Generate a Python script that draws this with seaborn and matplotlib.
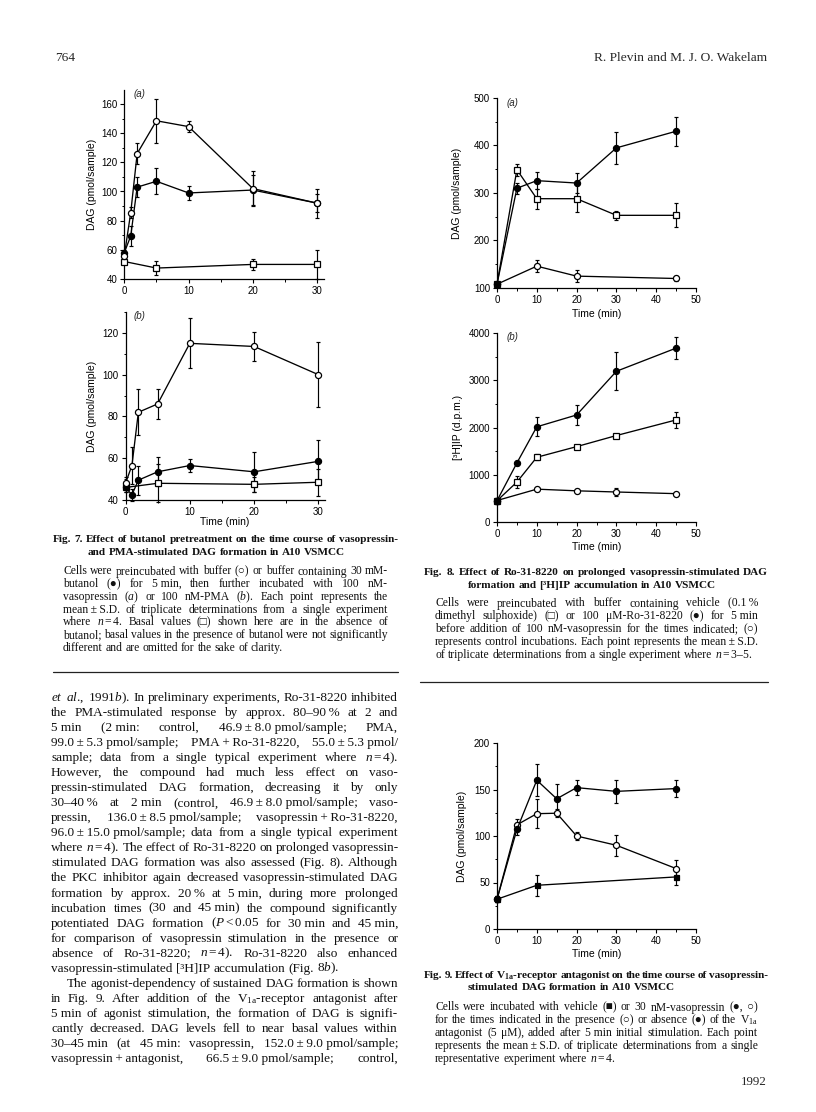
import matplotlib
matplotlib.use("Agg")
import numpy as np
import pandas as pd
import matplotlib.pyplot as plt
from matplotlib.ticker import MultipleLocator
from matplotlib.lines import Line2D
import seaborn as sns

# ---------------- data ----------------
fig7a_time = [0, 1, 2, 5, 10, 20, 30]
fig7a_vaso_buffer = [56, 85.5, 126, 148.5, 144.5, 102, 92]
fig7a_vaso_buffer_sd = [2, 4, 7, 15, 3.5, 12, 10]
fig7a_vaso_butanol = [58, 69.5, 103, 107, 99, 101, 92]
fig7a_vaso_butanol_sd = [2, 7, 7, 9, 4.5, 10, 6]
fig7a_basal_time = [0, 5, 20, 30]
fig7a_basal = [52, 47.5, 50, 50]
fig7a_basal_sd = [2, 5, 4, 10]

fig7b_time = [0, 1, 2, 5, 10, 20, 30]
fig7b_pma_buffer = [48, 56.5, 82, 86, 115, 113.5, 100]
fig7b_pma_buffer_sd = [3, 9, 11, 7, 12, 7, 15.5]
fig7b_pma_butanol = [46, 42.5, 49.5, 53.5, 56.5, 53.5, 58.5]
fig7b_pma_butanol_sd = [2, 3, 7, 7, 3, 9.5, 10]
fig7b_basal_time = [0, 5, 20, 30]
fig7b_basal = [46, 48, 47.5, 48.5]
fig7b_basal_sd = [2, 9, 3.5, 6.5]

fig8_time = [0, 5, 10, 20, 30, 45]
fig8a_ro = [108, 310, 326, 321, 395, 430]
fig8a_ro_sd = [4, 12, 18, 21, 33, 31]
fig8a_vehicle = [108, 349, 288, 288, 253, 253]
fig8a_vehicle_sd = [4, 13, 21, 29, 10, 25]
fig8a_control_time = [0, 10, 20, 45]
fig8a_control = [108, 146, 125, 120]
fig8a_control_sd = [3, 12, 13, 6]

fig8b_ro = [450, 1250, 2015, 2265, 3190, 3680]
fig8b_ro_sd = [60, 50, 200, 215, 400, 240]
fig8b_vehicle = [450, 845, 1370, 1595, 1830, 2160]
fig8b_vehicle_sd = [60, 120, 60, 40, 40, 160]
fig8b_control_time = [0, 10, 20, 30, 45]
fig8b_control = [455, 695, 660, 635, 600]
fig8b_control_sd = [60, 30, 30, 85, 20]

fig9_time = [0, 5, 10, 15, 20, 30, 45]
fig9_vaso = [32, 107, 160, 140, 152, 148, 151]
fig9_vaso_sd = [3, 6, 17, 16, 8, 12.5, 9]
fig9_antag = [32, 112, 124, 124.5, 100, 90, 65]
fig9_antag_sd = [3, 6.5, 15.5, 4.5, 4, 11.5, 9.5]
fig9_vehicle_time = [0, 10, 45]
fig9_vehicle = [32, 47, 56]
fig9_vehicle_sd = [3, 11, 9]

# ---------------- page text ----------------
PM = "\u2009±\u2009"
NB = "\u00a0"
body_lines = [
    r"$\mathit{et}$ $\mathit{al}$., 1991$\mathit{b}$). In preliminary experiments, Ro-31-8220 inhibited",
    "the PMA-stimulated response by approx. 80–90\u2009% at 2 and",
    f"5{NB}min (2{NB}min: control, 46.9{PM}8.0{NB}pmol/sample; PMA,",
    f"99.0{PM}5.3{NB}pmol/sample; PMA\u2009+\u2009Ro-31-8220, 55.0{PM}5.3{NB}pmol/",
    r"sample; data from a single typical experiment where $\mathit{n}=\mathrm{4}$).",
    "However, the compound had much less effect on vaso-",
    "pressin-stimulated DAG formation, decreasing it by only",
    f"30–40\u2009% at 2{NB}min (control, 46.9{PM}8.0{NB}pmol/sample; vaso-",
    f"pressin, 136.0{PM}8.5{NB}pmol/sample; vasopressin\u2009+\u2009Ro-31-8220,",
    f"96.0{PM}15.0{NB}pmol/sample; data from a single typical experiment",
    r"where $\mathit{n}=\mathrm{4}$). The effect of Ro-31-8220 on prolonged vasopressin-",
    "stimulated DAG formation was also assessed (Fig. 8). Although",
    "the PKC inhibitor again decreased vasopressin-stimulated DAG",
    f"formation by approx. 20\u2009% at 5{NB}min, during more prolonged",
    f"incubation times (30 and 45{NB}min) the compound significantly",
    r"potentiated DAG formation ($\mathit{P}<\mathrm{0.05}$ for 30" + NB + "min and 45" + NB + "min,",
    "for comparison of vasopressin stimulation in the presence or",
    r"absence of Ro-31-8220; $\mathit{n}=\mathrm{4}$). Ro-31-8220 also enhanced",
    r"vasopressin-stimulated [³H]IP accumulation (Fig. 8$\mathit{b}$).",
    "The agonist-dependency of sustained DAG formation is shown",
    r"in Fig. 9. After addition of the V$_{\mathrm{1a}}$-receptor antagonist after",
    f"5{NB}min of agonist stimulation, the formation of DAG is signifi-",
    "cantly decreased. DAG levels fell to near basal values within",
    f"30–45{NB}min (at 45{NB}min: vasopressin, 152.0{PM}9.0{NB}pmol/sample;",
    f"vasopressin\u2009+\u2009antagonist, 66.5{PM}9.0{NB}pmol/sample; control,",
]
title7 = ["Fig. 7. Effect of butanol pretreatment on the time course of vasopressin-",
          "and PMA-stimulated DAG formation in A10 VSMCC"]
cap7 = ["Cells were preincubated with buffer (○) or buffer containing 30 mM-",
        f"butanol (●) for 5{NB}min, then further incubated with 100 nM-",
        r"vasopressin ($\mathit{a}$) or 100 nM-PMA ($\mathit{b}$). Each point represents the",
        f"mean{PM}S.D. of triplicate determinations from a single experiment",
        r"where $\mathit{n}=\mathrm{4}$. Basal values (□) shown here are in the absence of",
        "butanol; basal values in the presence of butanol were not significantly",
        "different and are omitted for the sake of clarity."]
title8 = ["Fig. 8. Effect of Ro-31-8220 on prolonged vasopressin-stimulated DAG",
          "formation and [³H]IP accumulation in A10 VSMCC"]
cap8 = ["Cells were preincubated with buffer containing vehicle (0.1\u2009%",
        f"dimethyl sulphoxide) (□) or 100 μM-Ro-31-8220 (●) for 5{NB}min",
        "before addition of 100 nM-vasopressin for the times indicated; (○)",
        f"represents control incubations. Each point represents the mean{PM}S.D.",
        r"of triplicate determinations from a single experiment where $\mathit{n}=\mathrm{3}$–5."]
title9 = [r"Fig. 9. Effect of V$_{\mathbf{1a}}$-receptor antagonist on the time course of vasopressin-",
          "stimulated DAG formation in A10 VSMCC"]
cap9 = ["Cells were incubated with vehicle (■) or 30 nM-vasopressin (●, ○)",
        r"for the times indicated in the presence (○) or absence (●) of the V$_{\mathrm{1a}}$",
        f"antagonist (5 μM), added after 5{NB}min initial stimulation. Each point",
        f"represents the mean{PM}S.D. of triplicate determinations from a single",
        r"representative experiment where $\mathit{n}=\mathrm{4}$."]

# ---------------- setup ----------------
W, H = 816, 1112
sns.set_style("ticks")
plt.rcParams["font.family"] = ["Liberation Sans", "DejaVu Sans"]
plt.rcParams["mathtext.fontset"] = "custom"
plt.rcParams["mathtext.rm"] = "Liberation Serif"
plt.rcParams["mathtext.it"] = "Liberation Serif:italic"
plt.rcParams["mathtext.bf"] = "Liberation Serif:bold"
SERIF = ["Liberation Serif", "DejaVu Sans"]

fig = plt.figure(figsize=(W / 100, H / 100), dpi=100)
fig.patch.set_facecolor("white")
renderer = fig.canvas.get_renderer()


def axes_px(x0, y_top, x1, y_bottom):
    return fig.add_axes([x0 / W, 1 - y_bottom / H, (x1 - x0) / W, (y_bottom - y_top) / H])


def series(ax, t, v, sd, marker, filled, ms=4.4):
    df = pd.DataFrame({"time": t, "value": v, "sd": sd})
    ax.errorbar(df["time"], df["value"], yerr=df["sd"], fmt="none", ecolor="black",
                elinewidth=0.85, capsize=1.6, capthick=0.85, zorder=2, clip_on=False)
    sns.lineplot(data=df, x="time", y="value", ax=ax, color="black", linewidth=0.95,
                 marker=marker, markersize=ms,
                 markerfacecolor="black" if filled else "white",
                 markeredgecolor="black", markeredgewidth=0.9,
                 estimator=None, sort=False, zorder=3, clip_on=False)


def style(ax, xlim, ylim, xmaj, xmin, ymaj, ymin, ylabel, ylab_x, xlabel=None, xlab_dy=None):
    ax.set_xlim(*xlim)
    ax.set_ylim(*ylim)
    ax.xaxis.set_major_locator(MultipleLocator(xmaj))
    ax.xaxis.set_minor_locator(MultipleLocator(xmin))
    ax.yaxis.set_major_locator(MultipleLocator(ymaj))
    ax.yaxis.set_minor_locator(MultipleLocator(ymin))
    sns.despine(ax=ax)
    for s in ["left", "bottom"]:
        ax.spines[s].set_linewidth(0.9)
        ax.spines[s].set_color("black")
    ax.tick_params(which="major", direction="out", length=3, width=0.8, labelsize=7,
                   pad=2, colors="black")
    ax.tick_params(which="minor", direction="out", length=1.8, width=0.7, colors="black")
    ax.set_ylabel(ylabel, fontsize=7.5, color="black")
    ax.yaxis.set_label_coords(ylab_x, 0.5)
    ax.yaxis.label.set_va("center")
    if xlabel:
        ax.set_xlabel(xlabel, fontsize=7.5, color="black")
        ax.xaxis.set_label_coords(0.5, xlab_dy)
        ax.xaxis.label.set_va("center")
    else:
        ax.set_xlabel("")


def panel_label(ax, s, xf, yf):
    ax.text(xf, yf, s, transform=ax.transAxes, fontsize=7, fontstyle="italic",
            ha="left", va="center")


# ---------------- Fig. 7a ----------------
ax = axes_px(124.3, 90, 323.6, 279)
series(ax, fig7a_basal_time, fig7a_basal, fig7a_basal_sd, "s", False, 4.0)
series(ax, fig7a_time, fig7a_vaso_butanol, fig7a_vaso_butanol_sd, "o", True)
series(ax, fig7a_time, fig7a_vaso_buffer, fig7a_vaso_buffer_sd, "o", False)
style(ax, (0, 31), (40, 169.6), 10, 5, 20, 10, "DAG (pmol/sample)", -32 / 199.3)
panel_label(ax, "(a)", 0.044, 0.979)

# ---------------- Fig. 7b ----------------
ax = axes_px(125.5, 312, 324.8, 500)
series(ax, fig7b_basal_time, fig7b_basal, fig7b_basal_sd, "s", False, 4.0)
series(ax, fig7b_time, fig7b_pma_butanol, fig7b_pma_butanol_sd, "o", True)
series(ax, fig7b_time, fig7b_pma_buffer, fig7b_pma_buffer_sd, "o", False)
style(ax, (0, 31), (40, 130), 10, 5, 20, 10, "DAG (pmol/sample)", -33.5 / 199.3,
      "Time (min)", -22 / 188)
panel_label(ax, "(b)", 0.04, 0.979)

# ---------------- Fig. 8a ----------------
ax = axes_px(497, 98, 696, 288)
series(ax, fig8a_control_time, fig8a_control, fig8a_control_sd, "o", False)
series(ax, fig8_time, fig8a_vehicle, fig8a_vehicle_sd, "s", False, 4.0)
series(ax, fig8_time, fig8a_ro, fig8a_ro_sd, "o", True)
style(ax, (0, 50), (100, 500), 10, 5, 100, 50, "DAG (pmol/sample)", -40 / 199,
      "Time (min)", -26 / 190)
panel_label(ax, "(a)", 0.05, 0.974)

# ---------------- Fig. 8b ----------------
ax = axes_px(497, 333, 696, 522)
series(ax, fig8b_control_time, fig8b_control, fig8b_control_sd, "o", False)
series(ax, fig8_time, fig8b_vehicle, fig8b_vehicle_sd, "s", False, 4.0)
series(ax, fig8_time, fig8b_ro, fig8b_ro_sd, "o", True)
style(ax, (0, 50), (0, 4000), 10, 5, 1000, 500, "[³H]IP (d.p.m.)", -39 / 199,
      "Time (min)", -25 / 189)
panel_label(ax, "(b)", 0.05, 0.979)

# ---------------- Fig. 9 ----------------
ax = axes_px(497, 743, 696, 929)
series(ax, fig9_vehicle_time, fig9_vehicle, fig9_vehicle_sd, "s", True, 3.6)
series(ax, fig9_time, fig9_antag, fig9_antag_sd, "o", False)
series(ax, fig9_time, fig9_vaso, fig9_vaso_sd, "o", True)
style(ax, (0, 50), (0, 200), 10, 5, 50, 25, "DAG (pmol/sample)", -35 / 199,
      "Time (min)", -25 / 186)


# ---------------- page text helpers ----------------
def text_line(s, x0, y, size, x1=None, weight="normal"):
    words = s.split(" ")
    arts, widths = [], []
    for w in words:
        t = fig.text(0, 0, w, fontsize=size, family=SERIF, fontweight=weight,
                     ha="left", va="baseline", color="#111111")
        widths.append(t.get_window_extent(renderer).width)
        arts.append(t)
    nat = size * 100 / 72 * 0.25
    if x1 is not None and len(words) > 1:
        gap = (x1 - x0 - sum(widths)) / (len(words) - 1)
    else:
        gap = nat
    x = x0
    for t, w in zip(arts, widths):
        t.set_position((x / W, 1 - y / H))
        x += w + gap


def block(lines, x0, x1, y0, dy, size, weight="normal", justify_last=False):
    for i, s in enumerate(lines):
        last = i == len(lines) - 1
        text_line(s, x0, y0 + i * dy, size, None if (last and not justify_last) else x1, weight)


def rule(x0, x1, y):
    fig.add_artist(Line2D([x0 / W, x1 / W], [1 - y / H, 1 - y / H], color="#222222",
                          linewidth=0.9, transform=fig.transFigure))


# header / footer
fig.text(55 / W, 1 - 61 / H, "764", fontsize=9.6, family=SERIF, ha="left", va="baseline")
fig.text(767 / W, 1 - 61 / H, "R. Plevin and M. J. O. Wakelam", fontsize=9.6, family=SERIF,
         ha="right", va="baseline")
fig.text(767 / W, 1 - 1085 / H, "1992", fontsize=9.4, family=SERIF, ha="right", va="baseline")

# Fig. 7 legend
text_line(title7[0], 53, 541.5, 8.1, 398, "bold")
text_line(title7[1], 88, 554.5, 8.1, None, "bold")
block(cap7, 63, 388, 574.5, 12.67, 8.4)
rule(53, 398, 672)

# body text
for i, s in enumerate(body_lines):
    y = 701 + i * 15.04
    if i == 18:
        text_line(s, 51, y, 9.5, None)
    elif i == 19:
        text_line(s, 67, y, 9.5, 398)
    else:
        text_line(s, 51, y, 9.5, 398)

# Fig. 8 legend
text_line(title8[0], 424, 575.5, 8.1, 768, "bold")
text_line(title8[1], 468, 588, 8.1, None, "bold")
block(cap8, 435, 758, 606.5, 12.9, 8.4)
rule(420, 768, 682)

# Fig. 9 legend
text_line(title9[0], 424, 977.5, 8.1, 768, "bold")
text_line(title9[1], 468, 990.5, 8.1, None, "bold")
block(cap9, 435, 758, 1010.5, 12.8, 8.4)

fig.savefig("out.png", dpi=100, facecolor="white")
